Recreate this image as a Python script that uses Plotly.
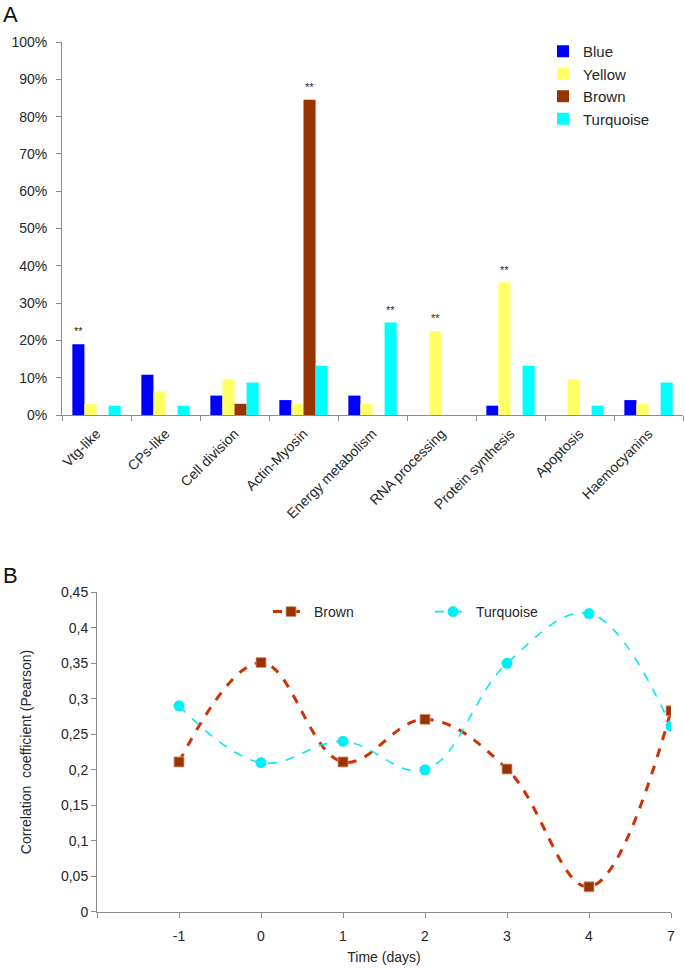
import plotly.graph_objects as go

# ---------------- Data: panel A ----------------
categories = ["Vtg-like", "CPs-like", "Cell division", "Actin-Myosin",
              "Energy metabolism", "RNA processing", "Protein synthesis",
              "Apoptosis", "Haemocyanins"]
blue = [0.19, 0.108, 0.052, 0.04, 0.052, 0.0, 0.025, 0.0, 0.04]
yellow = [0.03, 0.063, 0.095, 0.03, 0.03, 0.224, 0.355, 0.095, 0.03]
brown = [0.0, 0.0, 0.03, 0.845, 0.0, 0.0, 0.0, 0.0, 0.0]
turquoise = [0.025, 0.025, 0.087, 0.132, 0.248, 0.0, 0.132, 0.025, 0.087]
series_names = ["Blue", "Yellow", "Brown", "Turquoise"]
significant = [("Vtg-like", "Blue"), ("Actin-Myosin", "Brown"),
               ("Energy metabolism", "Turquoise"), ("RNA processing", "Yellow"),
               ("Protein synthesis", "Yellow")]

# ---------------- Data: panel B ----------------
days = ["-1", "0", "1", "2", "3", "4", "7"]
brown_corr = [0.211, 0.351, 0.211, 0.271, 0.201, 0.035, 0.283]
turq_corr = [0.290, 0.210, 0.240, 0.200, 0.350, 0.420, 0.261]
yticks_b = [0, 0.05, 0.1, 0.15, 0.2, 0.25, 0.3, 0.35, 0.4, 0.45]
yticktext_b = ["0", "0,05", "0,1", "0,15", "0,2", "0,25", "0,3", "0,35", "0,4", "0,45"]

W, H = 685, 968
FONT = "Liberation Sans, Arial, sans-serif"
TXT = "#262626"
AX = "#8c8c8c"

bar_colors = {"Blue": "#0000FF", "Yellow": "#FFFF66", "Brown": "#993300", "Turquoise": "#00FFFF"}
values = {"Blue": blue, "Yellow": yellow, "Brown": brown, "Turquoise": turquoise}

fig = go.Figure()
for name in series_names:
    fig.add_trace(go.Bar(x=categories, y=values[name], name=name,
                         marker=dict(color=bar_colors[name], line=dict(width=0)),
                         xaxis="x", yaxis="y", legend="legend"))

fig.add_trace(go.Scatter(x=list(range(len(days))), y=brown_corr, name="Brown",
                         mode="lines+markers", xaxis="x2", yaxis="y2", legend="legend2",
                         line=dict(color="#CC3300", width=3, dash="dash", shape="spline", smoothing=1.1),
                         marker=dict(symbol="square", size=10, color="#993300",
                                     line=dict(color="#d9a080", width=0.8))))
fig.add_trace(go.Scatter(x=list(range(len(days))), y=turq_corr, name="Turquoise",
                         mode="lines+markers", xaxis="x2", yaxis="y2", legend="legend2",
                         line=dict(color="#00E8F0", width=1.6, dash="dash", shape="spline", smoothing=1.1),
                         marker=dict(symbol="circle", size=11, color="#00F0F8")))

# domains (margins are 0, so paper == pixels)
xa = [62 / W, 683 / W]
ya = [(H - 415) / H, (H - 42) / H]
xb = [97 / W, 671 / W]
yb = [(H - 911.7) / H, (H - 592.3) / H]

bargap = 0.3
cat_px = (xa[1] - xa[0]) * W / len(categories)
bar_px = cat_px * (1 - bargap) / len(series_names)

annotations = []
for cat, ser in significant:
    i = categories.index(cat)
    k = series_names.index(ser)
    annotations.append(dict(x=cat, y=values[ser][i], xref="x", yref="y", text="**",
                            showarrow=False, yanchor="bottom", yshift=5,
                            xshift=(k - (len(series_names) - 1) / 2) * bar_px,
                            font=dict(size=11, color=TXT, family=FONT)))
annotations.append(dict(x=1 / W, y=1 - 0 / H, xref="paper", yref="paper", text="A",
                        showarrow=False, xanchor="left", yanchor="top",
                        font=dict(size=22, color="#111", family=FONT)))
annotations.append(dict(x=1 / W, y=1 - 561 / H, xref="paper", yref="paper", text="B",
                        showarrow=False, xanchor="left", yanchor="top",
                        font=dict(size=22, color="#111", family=FONT)))

common = dict(showline=True, linecolor=AX, linewidth=1, ticks="outside", ticklen=5,
              tickcolor=AX, showgrid=False, zeroline=False, automargin=False)

fig.update_layout(
    template="none",
    width=W, height=H, margin=dict(l=0, r=0, t=0, b=0, autoexpand=False),
    paper_bgcolor="white", plot_bgcolor="white",
    font=dict(family=FONT, color=TXT, size=14),
    barmode="group", bargap=bargap, bargroupgap=0,
    annotations=annotations,
    xaxis=dict(domain=xa, anchor="y", type="category", tickson="boundaries",
               tickangle=-45, tickfont=dict(size=14, color=TXT), ticklabelstandoff=4, **common),
    yaxis=dict(domain=ya, anchor="x", range=[0, 1], dtick=0.1, tickformat=".0%",
               tickfont=dict(size=14, color=TXT), ticklabelstandoff=6, **common),
    xaxis2=dict(domain=xb, anchor="y2", range=[-1, len(days) - 1],
                tickvals=list(range(-1, len(days))), ticktext=[""] + days,
                tickfont=dict(size=14, color=TXT), ticklabelstandoff=6,
                title=dict(text="Time (days)", font=dict(size=14, color=TXT), standoff=9),
                **common),
    yaxis2=dict(domain=yb, anchor="x2", range=[0, 0.45], tickvals=yticks_b, ticktext=yticktext_b,
                tickfont=dict(size=14, color=TXT),
                title=dict(text="Correlation  coefficient (Pearson)", font=dict(size=14, color=TXT),
                           standoff=26),
                **common),
    legend=dict(x=543 / W, y=1 - 35 / H, xanchor="left", yanchor="top",
                font=dict(size=15, color=TXT), bgcolor="rgba(0,0,0,0)", itemwidth=30,
                tracegroupgap=0),
    legend2=dict(orientation="h", x=268 / W, y=1 - 596 / H, xanchor="left", yanchor="top",
                 font=dict(size=14, color=TXT), bgcolor="rgba(0,0,0,0)", itemwidth=36,
                 entrywidth=111),
)

fig.write_html("out.html", config={"displayModeBar": False},
               post_script="document.body.style.margin='0';")
